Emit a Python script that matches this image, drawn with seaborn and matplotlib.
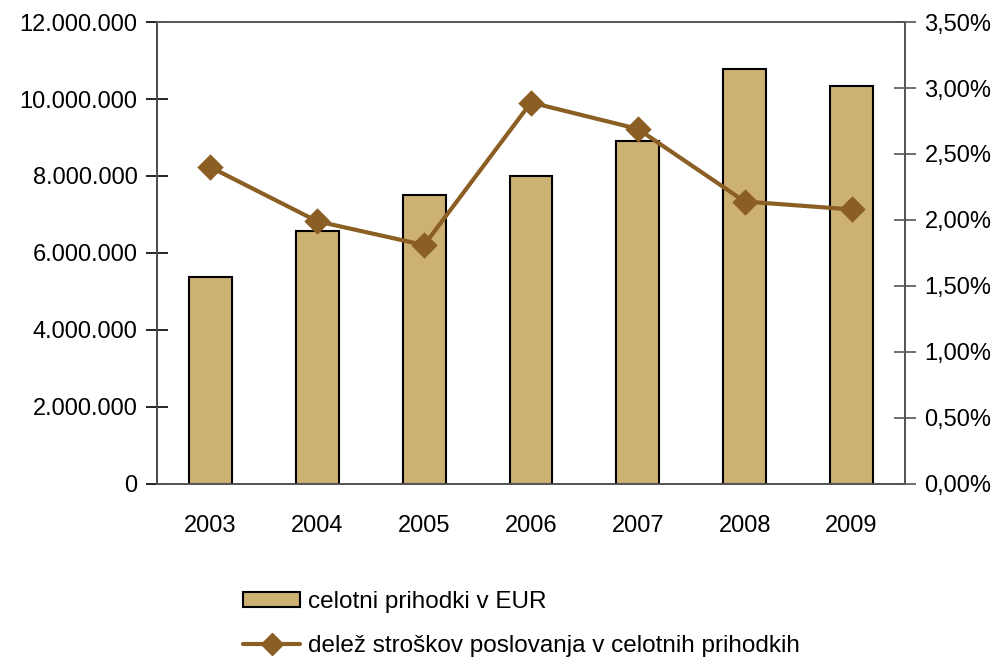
import matplotlib
matplotlib.use("Agg")
import matplotlib.pyplot as plt
import seaborn as sns
import pandas as pd
from matplotlib.ticker import FuncFormatter, MultipleLocator
from matplotlib.patches import Patch
from matplotlib.lines import Line2D

years = ["2003", "2004", "2005", "2006", "2007", "2008", "2009"]
revenue = [5370000, 6560000, 7500000, 8000000, 8900000, 10780000, 10350000]
cost_share = [2.40, 1.99, 1.81, 2.89, 2.69, 2.14, 2.08]

bar_label = "celotni prihodki v EUR"
line_label = "delež stroškov poslovanja v celotnih prihodkih"

sns.set_style("white")
plt.rcParams["font.family"] = ["Liberation Sans", "DejaVu Sans"]
plt.rcParams["text.color"] = "black"
plt.rcParams["xtick.labelcolor"] = "black"
plt.rcParams["ytick.labelcolor"] = "black"

bar_color = "#CDB073"
line_color = "#8B5E23"

df = pd.DataFrame({"year": years, "revenue": revenue, "share": cost_share})

fig = plt.figure(figsize=(9.97, 6.59), dpi=100)
ax = fig.add_axes([0.1575, 0.2656, 0.7502, 0.701])
sns.barplot(data=df, x="year", y="revenue", ax=ax, color=bar_color,
            width=0.40, edgecolor="black", linewidth=1.5, saturation=1)

ax2 = ax.twinx()
sns.pointplot(data=df, x="year", y="share", ax=ax2, color=line_color,
              markers="D", markersize=11, linewidth=3)

ax.set_xlim(-0.5, 6.5)
ax.set_ylim(0, 12000000)
ax2.set_ylim(0, 3.5)
ax.yaxis.set_major_locator(MultipleLocator(2000000))
ax2.yaxis.set_major_locator(MultipleLocator(0.5))
ax.yaxis.set_major_formatter(FuncFormatter(lambda v, p: f"{int(v):,}".replace(",", ".")))
ax2.yaxis.set_major_formatter(FuncFormatter(lambda v, p: f"{v:.2f}%".replace(".", ",")))

ax.set_xlabel("")
ax.set_ylabel("")
ax2.set_ylabel("")
ax2.set_xlabel("")

for a in (ax, ax2):
    for s in a.spines.values():
        s.set_visible(True)
        s.set_linewidth(1.3)
        s.set_color("#555555")
ax.spines["left"].set_color("black")
ax.spines["top"].set_color("#8a9090")

fs = 17
ax.tick_params(axis="y", direction="inout", length=16, width=1.2, labelsize=fs, pad=6,
               color="black", labelcolor="black")
ax2.tick_params(axis="y", direction="inout", length=16, width=1.2, labelsize=fs, pad=6,
                color="#555555", labelcolor="black")
ax.tick_params(axis="x", length=0, labelsize=fs, pad=22, labelcolor="black")
ax.set_xticks(range(len(years)))
ax.set_xticklabels(years)
ax.set_xticks([i - 0.5 for i in range(len(years) + 1)], minor=True)
ax.tick_params(axis="x", which="minor", direction="inout", length=16, width=1.2, color="#555555")

handles = [Patch(facecolor=bar_color, edgecolor="black", linewidth=1.5, label=bar_label),
           Line2D([0], [0], color=line_color, linewidth=3, marker="D", markersize=11, label=line_label)]
leg = fig.legend(handles=handles, loc="upper left", bbox_to_anchor=(0.244, 0.103), frameon=False,
                 fontsize=17.5, handlelength=2.35, handleheight=0.6, labelspacing=0.92,
                 handletextpad=0.3, borderaxespad=0, borderpad=0)
for t in leg.get_texts():
    t.set_color("black")

fig.savefig("out.png", dpi=100)
